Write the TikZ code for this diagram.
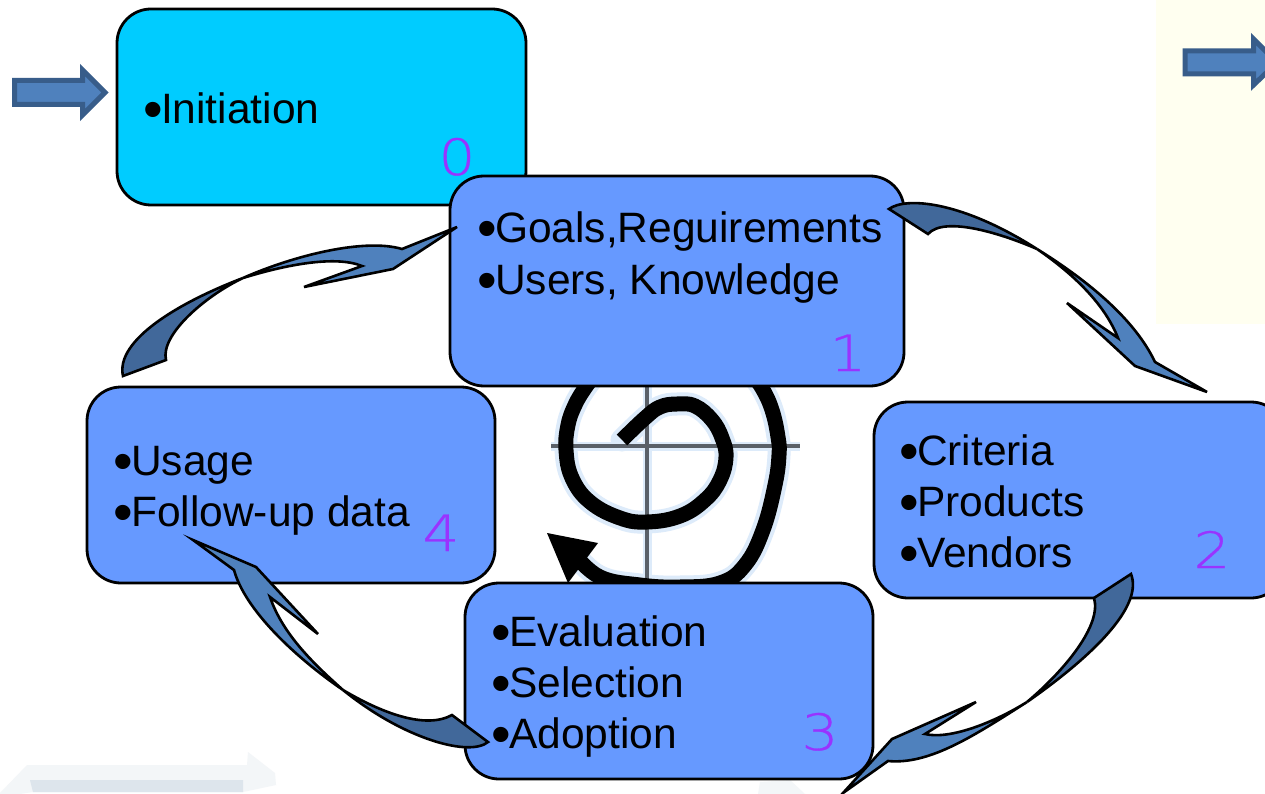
\documentclass[tikz,border=0pt]{standalone}
\usepackage{fontspec}
\setmainfont{Liberation Sans}
\newfontfamily\digitfont[FakeStretch=1.16,FakeBold=0.6]{DejaVu Sans ExtraLight}
\newcommand{\bigbul}{{\fontsize{56}{56}\selectfont\raisebox{-5pt}{\makebox[14.9pt]{\textbullet}}}}
\definecolor{boxblue}{HTML}{6699FF}
\definecolor{boxcyan}{HTML}{00CCFF}
\definecolor{armlight}{HTML}{4F81BD}
\definecolor{armdark}{HTML}{41689A}
\definecolor{armline}{HTML}{385D8A}
\definecolor{numpurple}{HTML}{9933FF}
\definecolor{paleyellow}{HTML}{FFFFF0}
\definecolor{gridgray}{HTML}{5A6068}
\definecolor{halo}{HTML}{DDEBFA}
\definecolor{wmlight}{HTML}{F3F6F8}
\definecolor{wmdark}{HTML}{DDE5EC}
\tikzset{
  x=1pt,y=-1pt,
  card/.style={draw=black,line width=2.8pt,rounded corners=34pt},
  bluecard/.style={card,fill=boxblue},
  label/.style={anchor=base west,inner sep=0pt,font=\fontsize{42.5}{48}\selectfont,text=black},
  num/.style={anchor=base,inner sep=0pt,font=\digitfont\fontsize{50}{54}\selectfont,text=numpurple},
  darkpart/.style={draw=black,line width=2.6pt,fill=armdark,line join=miter},
  lightpart/.style={draw=black,line width=2.6pt,fill=armlight,line join=miter},
  blockarrow/.style={draw=armline,line width=5pt,fill=armlight,line join=miter},
}
\begin{document}
\begin{tikzpicture}
\useasboundingbox (0,0) rectangle (1265,794);
\fill[white] (0,0) rectangle (1265,794);
% background
\fill[paleyellow] (1156,0) rectangle (1265,324);
\fill[wmlight] (0,793) -- (27,765) -- (247,765) -- (248,752) -- (275,773) -- (276,785) -- (243,792) -- (33,792) -- (20,794) -- (0,794) -- cycle;
\fill[wmdark] (30,780) -- (243,780) -- (243,792) -- (33,792) -- cycle;
\fill[wmlight] (758,794) -- (760,782) -- (790,780) -- (805,794) -- cycle;
% spiral
\begin{scope}
\clip (540,380) rectangle (810,590);
\draw[halo,line width=9pt] (551,446) -- (800,446);
\draw[halo,line width=9pt] (647,386) -- (647,583);
\draw[halo,line width=23pt,line cap=round] plot[smooth,tension=.7] coordinates {(622,440) (645,418) (660,407) (677,404) (695,406) (712,420) (722,438) (726,457) (720,480) (705,500) (680,516) (647,522) (620,518) (590,502) (572,478) (566,450) (568,425) (575,405) (585,388) (595,375)};
\draw[halo,line width=23pt] plot[smooth,tension=.7] coordinates {(750,372) (762,388) (772,410) (778,437) (779,455) (775,485) (763,530) (745,565) (720,583) (680,587) (640,585) (600,577) (575,555)};
\draw[gridgray,line width=4pt] (551,446) -- (800,446);
\draw[gridgray,line width=4pt] (647,386) -- (647,583);
\draw[black,line width=15pt] plot[smooth,tension=.7] coordinates {(622,440) (645,418) (660,407) (677,404) (695,406) (712,420) (722,438) (726,457) (720,480) (705,500) (680,516) (647,522) (620,518) (590,502) (572,478) (566,450) (568,425) (575,405) (585,388) (595,375)};
\draw[black,line width=15pt] plot[smooth,tension=.7] coordinates {(750,372) (762,388) (772,410) (778,437) (779,455) (775,485) (763,530) (745,565) (720,583) (680,587) (640,585) (600,577) (575,555)};
\fill[black] (547,533) -- (598,543) -- (568,583) -- cycle;
\end{scope}
% cards
\draw[card,fill=boxcyan] (117,9) rectangle (526,205);
\draw[bluecard] (450,176) rectangle (904,386);
\draw[bluecard] (874,402) rectangle (1285,598);
\draw[bluecard] (465,583) rectangle (873,779);
\draw[bluecard] (87,387) rectangle (495,583);
% texts
\node[label] (t0) at (146,124) {\bigbul Initiation};
\node[num] (n0) at (457,175) {0};
\node[label] (t1a) at (480,243) {\bigbul Goals,Reguirements};
\node[label] (t1b) at (480,294) {\bigbul Users, Knowledge};
\node[num] (n1) at (848,371) {1};
\node[label] (t2a) at (902,465) {\bigbul Criteria};
\node[label] (t2b) at (902,516) {\bigbul Products};
\node[label] (t2c) at (902,567) {\bigbul Vendors};
\node[num] (n2) at (1212,568) {2};
\node[label] (t3a) at (494,646) {\bigbul Evaluation};
\node[label] (t3b) at (494,697) {\bigbul Selection};
\node[label] (t3c) at (494,748) {\bigbul Adoption};
\node[num] (n3) at (820,750) {3};
\node[label] (t4a) at (116,475) {\bigbul Usage};
\node[label] (t4b) at (116,526) {\bigbul Follow-up data};
\node[num] (n4) at (441,551) {4};
% curved arrow 1 to 2
\draw[darkpart] (889,209) .. controls (905,197) and (960,200) .. (1037,249) .. controls (1005,235) and (945,215) .. (928,234) -- cycle;
\draw[lightpart] (1037,249) .. controls (1090,282) and (1135,320) .. (1155,362) -- (1207,392) -- (1135,366) -- (1067,303) -- (1118,338) .. controls (1105,305) and (1075,275) .. (1037,249) -- cycle;
% curved arrow 2 to 3
\draw[darkpart] (1131,574) -- (1094,598) .. controls (1102,625) and (1065,670) .. (1027,702) .. controls (1080,665) and (1145,610) .. (1131,574) -- cycle;
\draw[lightpart] (1027,702) .. controls (995,722) and (950,740) .. (925,734) -- (976,702) -- (892,739) -- (843,793) -- (888,761) .. controls (930,765) and (975,735) .. (1027,702) -- cycle;
% curved arrow 4 to 3
\draw[lightpart] (193,540) -- (256,567) -- (318,634) -- (270,597) .. controls (283,635) and (315,665) .. (343,690) .. controls (295,657) and (245,610) .. (234,570) -- cycle;
\draw[darkpart] (343,690) .. controls (380,712) and (425,730) .. (452,715) -- (488,742) .. controls (470,757) and (405,740) .. (343,690) -- cycle;
% curved arrow 4 to 1
\draw[darkpart] (123,376) .. controls (115,340) and (180,302) .. (243,278) .. controls (205,296) and (160,335) .. (166,360) -- cycle;
\draw[lightpart] (243,278) .. controls (295,255) and (365,238) .. (402,249) -- (457,227) -- (393,269) -- (304,287) -- (362,266) .. controls (335,255) and (285,265) .. (243,278) -- cycle;
% straight arrows
\draw[blockarrow] (14.5,80.5) -- (82.5,80.5) -- (82.5,70) -- (105,92.5) -- (82.5,115) -- (82.5,104.5) -- (14.5,104.5) -- cycle;
\draw[blockarrow] (1185,51) -- (1253.5,51) -- (1253.5,39) -- (1277,62.5) -- (1253.5,85) -- (1253.5,74) -- (1185,74) -- cycle;
\end{tikzpicture}
\end{document}
